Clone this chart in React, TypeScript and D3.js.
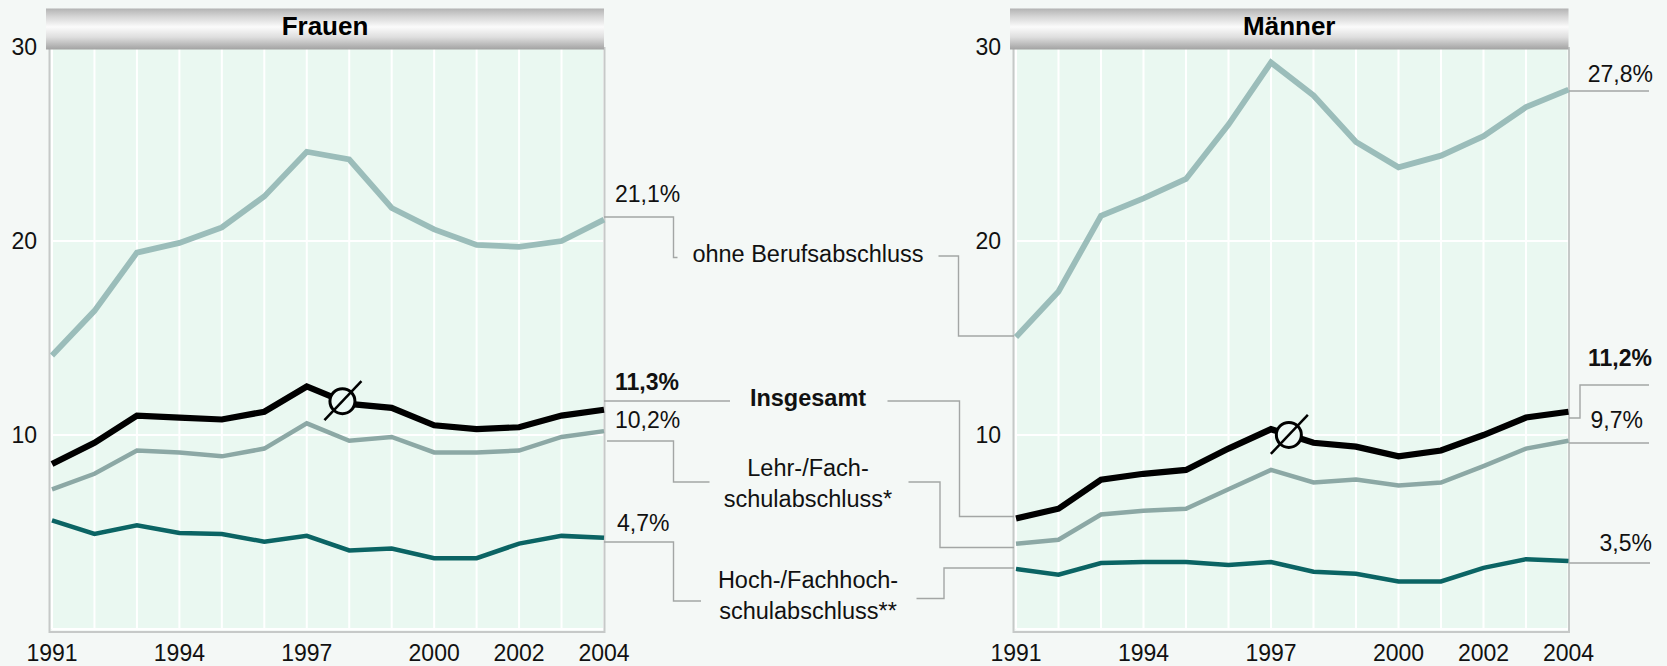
import React from "react";
import * as d3 from "d3";

// ---------- data ----------
const years = [1991, 1992, 1993, 1994, 1995, 1996, 1997, 1998, 1999, 2000, 2001, 2002, 2003, 2004];
const xTickYears = [1991, 1994, 1997, 2000, 2002, 2004];
const yTicks = [10, 20, 30];

const frauenOhne = [14.1, 16.4, 19.4, 19.9, 20.7, 22.3, 24.6, 24.2, 21.7, 20.6, 19.8, 19.7, 20.0, 21.1];
const frauenInsgesamt = [8.5, 9.6, 11.0, 10.9, 10.8, 11.2, 12.5, 11.6, 11.4, 10.5, 10.3, 10.4, 11.0, 11.3];
const frauenLehr = [7.2, 8.0, 9.2, 9.1, 8.9, 9.3, 10.6, 9.7, 9.9, 9.1, 9.1, 9.2, 9.9, 10.2];
const frauenHoch = [5.6, 4.9, 5.35, 4.95, 4.9, 4.5, 4.8, 4.05, 4.15, 3.65, 3.65, 4.4, 4.8, 4.7];

const maennerOhne = [15.05, 17.4, 21.3, 22.2, 23.2, 26.0, 29.2, 27.5, 25.1, 23.8, 24.4, 25.4, 26.9, 27.8];
const maennerInsgesamt = [5.7, 6.2, 7.7, 8.0, 8.2, 9.3, 10.3, 9.6, 9.4, 8.9, 9.2, 10.0, 10.9, 11.2];
const maennerLehr = [4.4, 4.6, 5.9, 6.1, 6.2, 7.2, 8.2, 7.55, 7.7, 7.4, 7.55, 8.4, 9.3, 9.7];
const maennerHoch = [3.1, 2.8, 3.4, 3.45, 3.45, 3.3, 3.45, 2.95, 2.85, 2.45, 2.45, 3.15, 3.6, 3.5];

const frauenEndLabels = ["21,1%", "11,3%", "10,2%", "4,7%"];
const maennerEndLabels = ["27,8%", "11,2%", "9,7%", "3,5%"];

// ---------- layout ----------
const W = 1667;
const H = 666;
const FONT = "'Liberation Sans', Arial, Helvetica, sans-serif";
const yScale = d3.scaleLinear().domain([0, 30]).range([629, 47]);

const COLORS = {
  ohne: "#9bbdba",
  lehr: "#8ca8a5",
  hoch: "#0b6464",
  ges: "#000000",
};

type Series = { key: string; values: number[]; color: string; width: number };

const panels = [
  {
    title: "Frauen",
    x0: 52,
    x1: 604,
    symbolYear: 1997.84,
    series: [
      { key: "ohne", values: frauenOhne, color: COLORS.ohne, width: 5.8 },
      { key: "lehr", values: frauenLehr, color: COLORS.lehr, width: 4.5 },
      { key: "hoch", values: frauenHoch, color: COLORS.hoch, width: 4.5 },
      { key: "ges", values: frauenInsgesamt, color: COLORS.ges, width: 6.2 },
    ] as Series[],
  },
  {
    title: "Männer",
    x0: 1016,
    x1: 1568.5,
    symbolYear: 1997.42,
    series: [
      { key: "ohne", values: maennerOhne, color: COLORS.ohne, width: 5.8 },
      { key: "lehr", values: maennerLehr, color: COLORS.lehr, width: 4.5 },
      { key: "hoch", values: maennerHoch, color: COLORS.hoch, width: 4.5 },
      { key: "ges", values: maennerInsgesamt, color: COLORS.ges, width: 6.2 },
    ] as Series[],
  },
];

// value label annotations (text, position, weight)
const valueLabels = [
  { text: frauenEndLabels[0], x: 615, y: 202, anchor: "start", bold: false },
  { text: frauenEndLabels[1], x: 615, y: 390, anchor: "start", bold: true },
  { text: frauenEndLabels[2], x: 615, y: 428, anchor: "start", bold: false },
  { text: frauenEndLabels[3], x: 617, y: 531, anchor: "start", bold: false },
  { text: maennerEndLabels[0], x: 1653, y: 82, anchor: "end", bold: false },
  { text: maennerEndLabels[1], x: 1652, y: 366, anchor: "end", bold: true },
  { text: maennerEndLabels[2], x: 1643, y: 428, anchor: "end", bold: false },
  { text: maennerEndLabels[3], x: 1652, y: 551, anchor: "end", bold: false },
];

const categoryLabels = [
  { lines: ["ohne Berufsabschluss"], y: 262, bold: false },
  { lines: ["Insgesamt"], y: 406, bold: true },
  { lines: ["Lehr-/Fach-", "schulabschluss*"], y: 476, bold: false },
  { lines: ["Hoch-/Fachhoch-", "schulabschluss**"], y: 588, bold: false },
];

const leaders: [number, number][][] = [
  // left panel -> labels
  [[604, 217], [673.5, 217], [673.5, 257.5], [677.5, 257.5]],
  [[604, 401], [730, 401]],
  [[607, 441], [673.5, 441], [673.5, 482], [709.5, 482]],
  [[604, 542], [673.5, 542], [673.5, 601], [701, 601]],
  // labels -> right panel
  [[938.5, 256], [958.5, 256], [958.5, 336], [1014, 336]],
  [[887.5, 401], [959.5, 401], [959.5, 516.5], [1014, 516.5]],
  [[908.5, 482], [940, 482], [940, 547.5], [1014, 547.5]],
  [[916.5, 598.5], [944, 598.5], [944, 568], [1014, 568]],
  // right panel value leaders
  [[1569, 91], [1649, 91]],
  [[1569, 418], [1580, 418], [1580, 385], [1649, 385]],
  [[1569, 443], [1649, 443]],
  [[1569, 563], [1650, 563]],
];

function Panel({ p }: { p: (typeof panels)[number] }) {
  const xs = d3.scaleLinear().domain([1991, 2004]).range([p.x0, p.x1]);
  const line = d3
    .line<number>()
    .x((_, i) => xs(years[i]))
    .y((d) => yScale(d));
  const ges = p.series.find((s) => s.key === "ges")!.values;
  const interp = d3.scaleLinear().domain(years).range(ges);
  const sx = xs(p.symbolYear);
  const sy = yScale(interp(p.symbolYear));
  const yTop = yScale(30);
  const yBot = yScale(0);
  return (
    <g>
      <rect x={p.x0} y={yTop} width={p.x1 - p.x0} height={yBot - yTop} fill="#eaf8f1" />
      {years.map((yr) => (
        <line key={yr} x1={xs(yr)} x2={xs(yr)} y1={yTop} y2={yBot} stroke="#ffffff" strokeWidth={2} />
      ))}
      {[0, ...yTicks].map((t) => (
        <line key={t} x1={p.x0} x2={p.x1} y1={yScale(t)} y2={yScale(t)} stroke="#ffffff" strokeWidth={2} />
      ))}
      {/* frame */}
      <path
        d={`M${p.x0 - 2.5},${yTop} V${yBot + 3} H${p.x1 + 0.5} V${yTop}`}
        fill="none"
        stroke="#c6c9c8"
        strokeWidth={2}
      />
      {p.series.map((s) => (
        <path
          key={s.key}
          d={line(s.values) || ""}
          fill="none"
          stroke={s.color}
          strokeWidth={s.width}
          strokeLinejoin="miter"
          strokeMiterlimit={3}
        />
      ))}
      {/* average symbol */}
      <circle cx={sx} cy={sy} r={12.5} fill="#edf9f5" stroke="#000" strokeWidth={3} />
      <line x1={sx - 18} y1={sy + 19} x2={sx + 19} y2={sy - 20} stroke="#000" strokeWidth={2.5} />
      {/* header */}
      <rect x={p.x0 - 6} y={8.5} width={p.x1 - p.x0 + 6} height={41} fill="url(#hdr)" />
      <text
        x={(p.x0 - 6 + p.x1) / 2}
        y={35}
        textAnchor="middle"
        fontFamily={FONT}
        fontWeight="bold"
        fontSize={26}
        fill="#000"
      >
        {p.title}
      </text>
      {yTicks.map((t) => (
        <text
          key={t}
          x={p.x0 - 15}
          y={yScale(t) + 8}
          textAnchor="end"
          fontFamily={FONT}
          fontSize={23}
          fill="#111"
        >
          {t}
        </text>
      ))}
      {xTickYears.map((yr) => (
        <text key={yr} x={xs(yr)} y={661} textAnchor="middle" fontFamily={FONT} fontSize={23} fill="#111">
          {yr}
        </text>
      ))}
    </g>
  );
}

export default function App() {
  return (
    <div style={{ position: "absolute", left: 0, top: 0, width: W, height: H, overflow: "hidden" }}>
      <svg width={W} height={H} style={{ display: "block" }}>
        <defs>
          <linearGradient id="hdr" x1="0" y1="0" x2="0" y2="1">
            <stop offset="0%" stopColor="#b3b3b3" />
            <stop offset="20%" stopColor="#d6d6d6" />
            <stop offset="45%" stopColor="#fbfbfb" />
            <stop offset="70%" stopColor="#dedede" />
            <stop offset="100%" stopColor="#a2a2a2" />
          </linearGradient>
        </defs>
        <rect x={0} y={0} width={W} height={H} fill="#f4f8f6" />
        {panels.map((p) => (
          <Panel key={p.title} p={p} />
        ))}
        {leaders.map((pts, i) => (
          <polyline
            key={i}
            points={pts.map((q) => q.join(",")).join(" ")}
            fill="none"
            stroke="#a3a6a5"
            strokeWidth={1.4}
          />
        ))}
        {valueLabels.map((v) => (
          <text
            key={v.text}
            x={v.x}
            y={v.y}
            textAnchor={v.anchor as any}
            fontFamily={FONT}
            fontSize={23}
            fontWeight={v.bold ? "bold" : "normal"}
            fill="#111"
          >
            {v.text}
          </text>
        ))}
        {categoryLabels.map((c) => (
          <text
            key={c.lines[0]}
            x={808}
            y={c.y}
            textAnchor="middle"
            fontFamily={FONT}
            fontSize={23.5}
            fontWeight={c.bold ? "bold" : "normal"}
            fill="#111"
          >
            {c.lines.map((l, i) => (
              <tspan key={l} x={808} dy={i === 0 ? 0 : 30.7}>
                {l}
              </tspan>
            ))}
          </text>
        ))}
      </svg>
    </div>
  );
}
